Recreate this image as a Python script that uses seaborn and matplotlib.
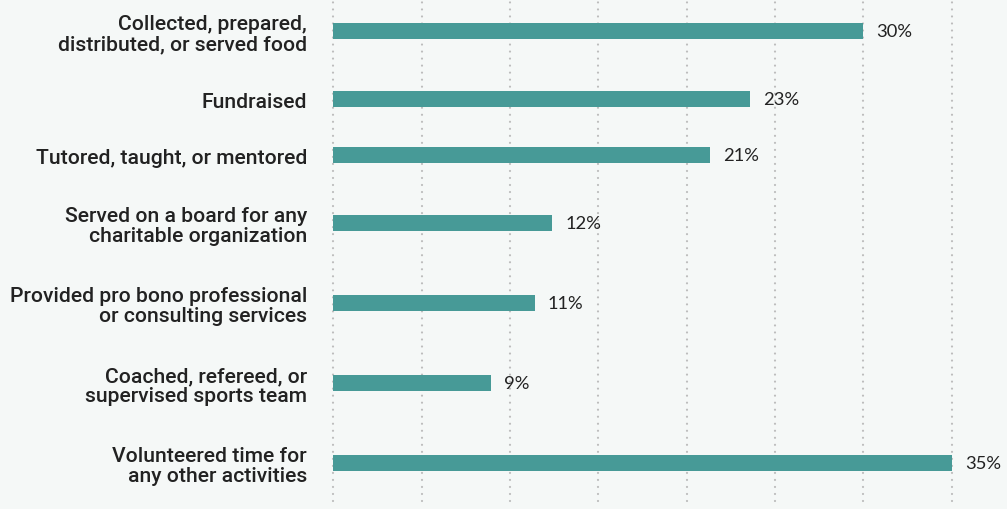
import matplotlib
matplotlib.use('Agg')
import matplotlib.pyplot as plt
import numpy as np
import pandas as pd
import seaborn as sns

ACTIVITIES = [
    'Collected, prepared,\ndistributed, or served food',
    'Fundraised',
    'Tutored, taught, or mentored',
    'Served on a board for any\ncharitable organization',
    'Provided pro bono professional\nor consulting services',
    'Coached, refereed, or\nsupervised sports team',
    'Volunteered time for\nany other activities',
]
SHARES = [30.0, 23.6, 21.3, 12.4, 11.4, 8.9, 35.0]
SHARE_LABELS = ['30%', '23%', '21%', '12%', '11%', '9%', '35%']

BG = '#f5f8f7'
BAR = '#479a97'
TEXT = '#222222'

# rows holding two-line labels take more vertical room than one-line rows
lines = [label.count('\n') + 1 for label in ACTIVITIES]
positions = [0.0]
for prev, nxt in zip(lines[:-1], lines[1:]):
    positions.append(positions[-1] + 32 + 12 * (prev + nxt))

df = pd.DataFrame({'activity': ACTIVITIES, 'share': SHARES, 'pos': positions})

sns.set_style('white')
plt.rcParams['font.family'] = ['Roboto', 'DejaVu Sans']

fig = plt.figure(figsize=(10.07, 5.10), dpi=100, facecolor=BG)
ax = fig.add_axes([333.3 / 1007, 8 / 510, (951.6 - 333.3) / 1007, 502 / 510])
ax.set_facecolor(BG)

min_gap = np.min(np.diff(positions))
sns.barplot(data=df, x='share', y='pos', orient='h', native_scale=True,
            color=BAR, saturation=1, width=16 / min_gap, ax=ax, zorder=3)
for patch in ax.patches:
    patch.set_edgecolor('none')

ax.set_xlim(0, 35)
ax.set_ylim(470, -32)
ax.set_xticks(np.arange(0, 36, 5))
ax.set_xticklabels([])
ax.set_yticks(positions)
ax.set_yticklabels(ACTIVITIES, fontsize=15.2, fontweight='medium', color=TEXT,
                   linespacing=1.1)
ax.tick_params(axis='both', length=0)
ax.tick_params(axis='y', pad=19)
ax.set_xlabel('')
ax.set_ylabel('')
sns.despine(ax=ax, left=True, bottom=True)

ax.set_axisbelow(True)
ax.grid(axis='x', color='#bcbcbc', linewidth=1.6, linestyle=(0, (0.01, 5.04 / 1.6)))
ax.grid(axis='y', visible=False)
for line in ax.get_xgridlines():
    line.set_dash_capstyle('round')
    line.set_clip_on(False)

for pos, share, text in zip(positions, SHARES, SHARE_LABELS):
    ax.annotate(text, xy=(share, pos), xytext=(9.5, 0), textcoords='offset points',
                ha='left', va='center', fontsize=13.2, color=TEXT,
                family=['Lato', 'DejaVu Sans'], annotation_clip=False)

fig.savefig('out.png', dpi=100, facecolor=BG)
